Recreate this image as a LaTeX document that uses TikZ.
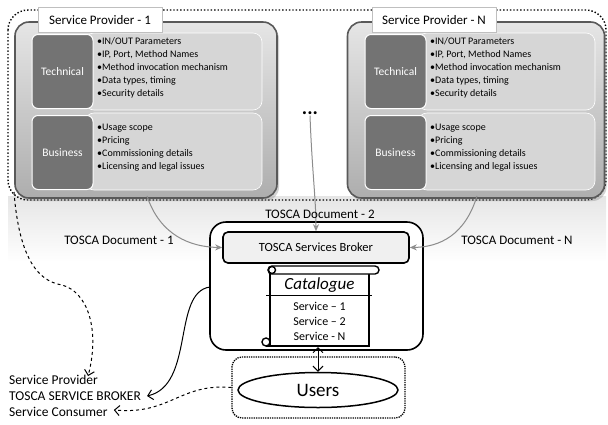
\documentclass[tikz,border=0pt]{standalone}
\usepackage{fontspec}
\setmainfont{Carlito}
\usetikzlibrary{arrows.meta,shapes.geometric,shadows}
\begin{document}
\begin{tikzpicture}[x=1pt,y=-1pt,
  provbox/.style={rounded corners=14pt,draw=black!65,line width=1.6pt,top color=black!10,bottom color=black!32,
    drop shadow={opacity=0.35,shadow xshift=2pt,shadow yshift=-3pt},minimum width=#1,minimum height=176pt,inner sep=0pt},
  tabbox/.style={draw=black!25,fill=white,minimum width=124pt,minimum height=25pt,font=\fontsize{13}{14}\selectfont,inner sep=0pt},
  darkbox/.style={rounded corners=6pt,draw=white,line width=1pt,fill=black!55,minimum width=61pt,minimum height=74pt,
    text=white,font=\fontsize{11.5}{13}\selectfont,inner sep=0pt},
  panel/.style={rounded corners=9pt,fill=black!16,draw=white,line width=0.6pt,minimum width=177pt,minimum height=77pt,inner sep=0pt},
  bullets/.style={anchor=north west,align=left,inner sep=0pt,font=\fontsize{10}{13}\selectfont},
  doclabel/.style={font=\fontsize{13}{15}\selectfont,inner sep=1pt},
  graycurve/.style={draw=black!45,line width=1pt,-{Stealth[length=7pt,width=6pt,open]}},
  legend/.style={anchor=west,font=\fontsize{13.5}{15}\selectfont,inner sep=0pt}
]
\useasboundingbox (0,0) rectangle (608,424);
% background haze
\shade[top color=black!10,bottom color=white] (8,196) rectangle (606,262);
\coordinate (s1) at (147,196);
\coordinate (sN) at (477,196);
% outer dotted frame
\draw[line width=1.4pt,dotted,rounded corners=20pt] (8,10) rectangle (606,200);

% Provider 1
\node[provbox=262pt] (p1) at (146,110) {};
\node[panel] (p1tp) at (173.5,71.5) {};
\node[panel] (p1bp) at (173.5,151.5) {};
\node[darkbox] (p1t) at (62.5,71.5) {Technical};
\node[darkbox] (p1b) at (62.5,152.5) {Business};
\node[bullets] (p1tb) at (97,37.5) {•IN/OUT Parameters\\•IP, Port, Method Names\\•Method invocation mechanism\\•Data types, timing\\•Security details};
\node[bullets] (p1bb) at (97,124) {•Usage scope\\•Pricing\\•Commissioning details\\•Licensing and legal issues};
\node[tabbox] (p1tab) at (100,20) {Service Provider - 1};

% Provider N
\node[provbox=257pt] (pN) at (476,110) {};
\node[panel] (pNtp) at (506.5,71.5) {};
\node[panel] (pNbp) at (506.5,151.5) {};
\node[darkbox] (pNt) at (395.5,71.5) {Technical};
\node[darkbox] (pNb) at (395.5,152.5) {Business};
\node[bullets] (pNtb) at (430,37.5) {•IN/OUT Parameters\\•IP, Port, Method Names\\•Method invocation mechanism\\•Data types, timing\\•Security details};
\node[bullets] (pNbb) at (430,124) {•Usage scope\\•Pricing\\•Commissioning details\\•Licensing and legal issues};
\node[tabbox] (pNtab) at (434,20) {Service Provider - N};

% dots
\node[font=\bfseries\fontsize{20}{20}\selectfont,inner sep=1pt] (dots) at (310,113) {...};

% Broker
\node[draw,line width=1.6pt,rounded corners=16pt,minimum width=213pt,minimum height=128pt,fill=white] (broker) at (316.5,286) {};
\node[draw,line width=1.6pt,rounded corners=5pt,fill=black!6,minimum width=186pt,minimum height=31pt,
  font=\fontsize{12.5}{14}\selectfont] (tsb) at (316,247.5) {TOSCA Services Broker};

% Scroll (catalogue)
\draw[line width=1.4pt,fill=white] (270,272) -- (270,346) -- (369,346) -- (369,274);
\draw[line width=1.4pt,fill=white,rounded corners=4pt] (268,266) rectangle (379,274);
\draw[line width=1.4pt,fill=white] (272,270) circle (3.5pt);
\draw[line width=1.4pt,fill=white] (266,342) circle (4pt);
\draw[line width=1.4pt] (266,346) -- (272,346);
\node[font=\itshape\fontsize{17}{18}\selectfont,inner sep=0pt] (cat) at (319.5,285) {Catalogue};
\draw[line width=0.8pt] (266,295) -- (372,295);
\node[font=\fontsize{12}{15}\selectfont,align=center,inner sep=0pt] (svc) at (319.5,321) {Service – 1\\Service – 2\\Service - N};
\coordinate (scrollbot) at (318,347);

% Users
\node[draw,line width=1.3pt,densely dotted,rounded corners=10pt,minimum width=173pt,minimum height=61pt] (ubox) at (318.5,387.5) {};
\node[draw,ellipse,line width=1.5pt,minimum width=160pt,minimum height=35pt,inner sep=0pt,
  font=\fontsize{19}{20}\selectfont] (users) at (318,390) {Users};
\draw[line width=1pt,{Straight Barb[length=5pt]}-{Straight Barb[length=5pt]}] (scrollbot) -- (users.north);

% TOSCA documents
\draw[graycurve] (s1) .. controls (160,235) and (190,247) .. (tsb.west);
\draw[graycurve] (sN) .. controls (465,235) and (440,247) .. (tsb.east);
\draw[graycurve] (dots.south) .. controls (312,170) and (316,200) .. (tsb.north);
\node[doclabel] (d1) at (119,240) {TOSCA Document - 1};
\node[doclabel] (d2) at (320,214) {TOSCA Document - 2};
\node[doclabel] (dN) at (517,240) {TOSCA Document - N};

% legend
\node[legend] (lsp) at (9,380) {Service Provider};
\node[legend] (lbr) at (9,396) {TOSCA SERVICE BROKER};
\node[legend] (lsc) at (9,412) {Service Consumer};
\coordinate (fstart) at (14,192);
\coordinate (bstart) at (210,287);
\draw[line width=1pt,dashed,-{Straight Barb[length=5pt]}] (fstart) .. controls (20,270) and (45,282) .. (62,285)
  .. controls (88,292) and (100,330) .. ([xshift=-10pt,yshift=-1pt]lsp.north east);
\draw[line width=1pt,-{Straight Barb[length=5pt]}] (bstart) .. controls (172,292) and (195,385) .. ([xshift=6pt]lbr.east);
\draw[line width=1pt,dashed,-{Straight Barb[length=5pt]}] (ubox.west) .. controls (180,383) and (170,415) .. ([xshift=6pt,yshift=2pt]lsc.east);
\end{tikzpicture}
\end{document}
